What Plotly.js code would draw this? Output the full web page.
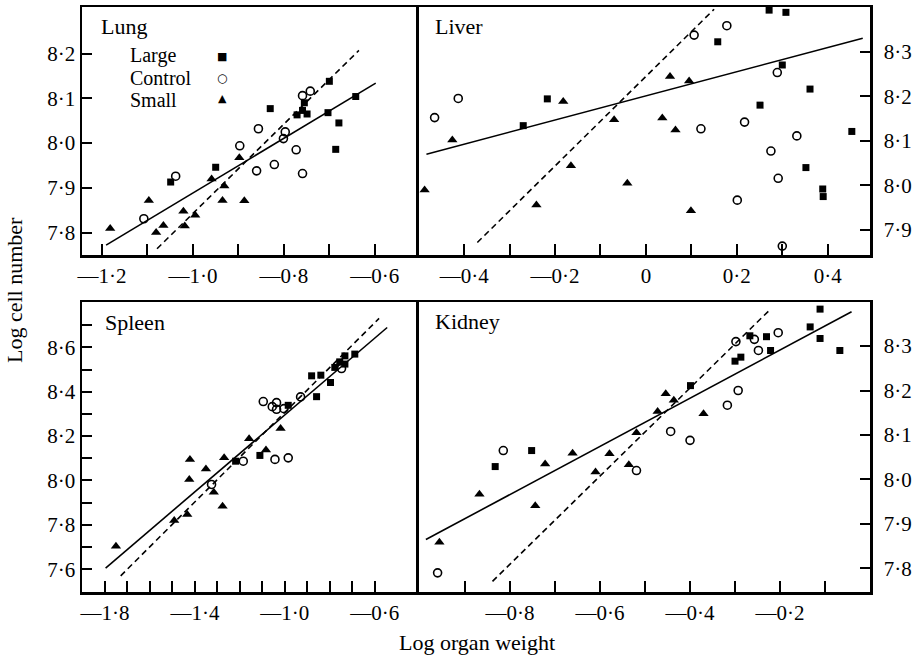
<!DOCTYPE html>
<html><head><meta charset="utf-8">
<script src="https://cdn.plot.ly/plotly-3.0.1.min.js"></script>
<style>body{margin:0;background:#fff}</style>
</head><body><div id="chart" style="width:913px;height:655px"></div>
<script>
// ---------- Lung ----------
var lungLargeX = [-1.049, -0.950, -0.830, -0.771, -0.755, -0.759, -0.749, -0.700, -0.703, -0.679, -0.686, -0.642];
var lungLargeY = [7.913, 7.946, 8.077, 8.063, 8.090, 8.073, 8.065, 8.138, 8.068, 8.045, 7.986, 8.104];
var lungControlX = [-1.038, -1.108, -0.897, -0.856, -0.860, -0.821, -0.797, -0.801, -0.773, -0.759, -0.742, -0.759];
var lungControlY = [7.926, 7.831, 7.994, 8.032, 7.938, 7.952, 8.025, 8.010, 7.985, 8.106, 8.116, 7.932];
var lungSmallX = [-1.182, -1.097, -1.081, -1.065, -1.021, -1.018, -0.995, -0.959, -0.931, -0.935, -0.898, -0.887];
var lungSmallY = [7.809, 7.872, 7.800, 7.816, 7.848, 7.815, 7.839, 7.920, 7.904, 7.872, 7.967, 7.871];
var lungSolidX = [-1.191, -0.598], lungSolidY = [7.772, 8.134];
var lungDashX = [-1.079, -0.635], lungDashY = [7.764, 8.207];

// ---------- Liver ----------
var liverLargeX = [0.271, 0.308, 0.158, 0.300, -0.217, -0.270, 0.361, 0.251, 0.453, 0.352, 0.389, 0.390];
var liverLargeY = [8.393, 8.388, 8.322, 8.270, 8.194, 8.134, 8.216, 8.180, 8.121, 8.040, 7.992, 7.975];
var liverControlX = [-0.465, -0.413, 0.106, 0.178, 0.289, 0.121, 0.217, 0.332, 0.275, 0.291, 0.201, 0.300];
var liverControlY = [8.152, 8.195, 8.337, 8.358, 8.253, 8.127, 8.142, 8.111, 8.077, 8.016, 7.967, 7.864];
var liverSmallX = [-0.487, -0.426, -0.241, -0.182, -0.165, -0.070, -0.041, 0.036, 0.053, 0.065, 0.095, 0.099];
var liverSmallY = [7.990, 8.102, 7.956, 8.188, 8.044, 8.147, 8.005, 8.151, 8.244, 8.124, 8.234, 7.943];
var liverSolidX = [-0.483, 0.477], liverSolidY = [8.070, 8.330];
var liverDashX = [-0.371, 0.150], liverDashY = [7.872, 8.395];

// ---------- Spleen ----------
var spleenLargeX = [-1.219, -1.111, -0.985, -0.881, -0.840, -0.859, -0.797, -0.778, -0.756, -0.733, -0.733, -0.689];
var spleenLargeY = [8.087, 8.113, 8.339, 8.472, 8.475, 8.378, 8.442, 8.510, 8.535, 8.562, 8.525, 8.570];
var spleenControlX = [-1.326, -1.185, -1.096, -1.056, -1.037, -1.037, -1.044, -1.004, -0.985, -0.930, -0.748];
var spleenControlY = [7.982, 8.087, 8.356, 8.333, 8.351, 8.321, 8.095, 8.324, 8.102, 8.377, 8.505];
var spleenSmallX = [-1.751, -1.492, -1.434, -1.422, -1.425, -1.351, -1.316, -1.277, -1.270, -1.159, -1.084, -1.019];
var spleenSmallY = [7.703, 7.820, 7.846, 8.095, 8.004, 8.052, 7.947, 7.884, 8.102, 8.188, 8.137, 8.235];
var spleenSolidX = [-1.797, -0.545], spleenSolidY = [7.605, 8.690];
var spleenDashX = [-1.730, -0.581], spleenDashY = [7.570, 8.731];

// ---------- Kidney ----------
var kidneyLargeX = [-0.833, -0.752, -0.399, -0.300, -0.287, -0.267, -0.230, -0.221, -0.133, -0.111, -0.111, -0.067];
var kidneyLargeY = [8.029, 8.065, 8.211, 8.266, 8.275, 8.323, 8.321, 8.290, 8.343, 8.383, 8.317, 8.290];
var kidneyControlX = [-0.961, -0.815, -0.519, -0.443, -0.400, -0.317, -0.293, -0.298, -0.257, -0.248, -0.204];
var kidneyControlY = [7.790, 8.065, 8.020, 8.108, 8.088, 8.167, 8.200, 8.310, 8.315, 8.290, 8.330];
var kidneySmallX = [-0.957, -0.868, -0.744, -0.722, -0.661, -0.610, -0.579, -0.536, -0.519, -0.472, -0.454, -0.436, -0.370];
var kidneySmallY = [7.859, 7.967, 7.941, 8.035, 8.059, 8.017, 8.058, 8.033, 8.105, 8.153, 8.193, 8.178, 8.148];
var kidneySolidX = [-0.987, -0.041], kidneySolidY = [7.865, 8.377];
var kidneyDashX = [-0.839, -0.220], kidneyDashY = [7.771, 8.384];

// ---------- Ticks ----------
var lungXTicks = [-1.2, -1.1, -1.0, -0.9, -0.8, -0.7, -0.6];
var lungXLabels = ["—1·2", "", "—1·0", "", "—0·8", "", "—0·6"];
var lungYTicks = [7.8, 7.9, 8.0, 8.1, 8.2];
var lungYLabels = ["7·8", "7·9", "8·0", "8·1", "8·2"];
var liverXTicks = [-0.4, -0.3, -0.2, -0.1, 0, 0.1, 0.2, 0.3, 0.4];
var liverXLabels = ["—0·4", "", "—0·2", "", "0", "", "0·2", "", "0·4"];
var liverYTicks = [7.9, 8.0, 8.1, 8.2, 8.3];
var liverYLabels = ["7·9", "8·0", "8·1", "8·2", "8·3"];
var spleenXTicks = [-1.8, -1.7, -1.6, -1.5, -1.4, -1.3, -1.2, -1.1, -1.0, -0.9, -0.8, -0.7, -0.6];
var spleenXLabels = ["—1·8", "", "", "", "—1·4", "", "", "", "—1·0", "", "", "", "—0·6"];
var spleenYTicks = [7.6, 7.7, 7.8, 7.9, 8.0, 8.1, 8.2, 8.3, 8.4, 8.5, 8.6, 8.7];
var spleenYLabels = ["7·6", "", "7·8", "", "8·0", "", "8·2", "", "8·4", "", "8·6", ""];
var kidneyXTicks = [-0.9, -0.8, -0.7, -0.6, -0.5, -0.4, -0.3, -0.2, -0.1];
var kidneyXLabels = ["", "—0·8", "", "—0·6", "", "—0·4", "", "—0·2", ""];
var kidneyYTicks = [7.8, 7.9, 8.0, 8.1, 8.2, 8.3];
var kidneyYLabels = ["7·8", "7·9", "8·0", "8·1", "8·2", "8·3"];

var panelNames = ["Lung", "Liver", "Spleen", "Kidney"];
var groupNames = ["Large", "Control", "Small"];

var FONT = "Liberation Serif, Times New Roman, serif";
var traces = [];
function addPanel(ax, large, control, small, solid, dash) {
  var xa = 'x' + ax, ya = 'y' + ax;
  traces.push({x: large[0], y: large[1], xaxis: xa, yaxis: ya, mode: 'markers', type: 'scatter', cliponaxis: false,
    marker: {symbol: 'square', size: 7, color: '#000'}});
  traces.push({x: control[0], y: control[1], xaxis: xa, yaxis: ya, mode: 'markers', type: 'scatter', cliponaxis: false,
    marker: {symbol: 'circle-open', size: 8, color: '#000', line: {width: 1.6, color: '#000'}}});
  traces.push({x: small[0], y: small[1], xaxis: xa, yaxis: ya, mode: 'markers', type: 'scatter', cliponaxis: false,
    marker: {symbol: 'triangle-up', size: 9, color: '#000'}});
  traces.push({x: solid[0], y: solid[1], xaxis: xa, yaxis: ya, mode: 'lines', type: 'scatter',
    line: {color: '#000', width: 1.6}});
  traces.push({x: dash[0], y: dash[1], xaxis: xa, yaxis: ya, mode: 'lines', type: 'scatter',
    line: {color: '#000', width: 1.6, dash: '6px,4px'}});
}
addPanel('', [lungLargeX, lungLargeY], [lungControlX, lungControlY], [lungSmallX, lungSmallY], [lungSolidX, lungSolidY], [lungDashX, lungDashY]);
addPanel('2', [liverLargeX, liverLargeY], [liverControlX, liverControlY], [liverSmallX, liverSmallY], [liverSolidX, liverSolidY], [liverDashX, liverDashY]);
addPanel('3', [spleenLargeX, spleenLargeY], [spleenControlX, spleenControlY], [spleenSmallX, spleenSmallY], [spleenSolidX, spleenSolidY], [spleenDashX, spleenDashY]);
addPanel('4', [kidneyLargeX, kidneyLargeY], [kidneyControlX, kidneyControlY], [kidneySmallX, kidneySmallY], [kidneySolidX, kidneySolidY], [kidneyDashX, kidneyDashY]);

var W = 913, H = 655;
function px(v) { return v / W; }
function py(v) { return 1 - v / H; }
var colL = [px(82), px(416.2)], colR = [px(418.7), px(870)];
var rowT = [py(255), py(7)], rowB = [py(592), py(302)];

function axis(domain, range, tv, tt, extra) {
  var a = {domain: domain, range: range, tickmode: 'array', tickvals: tv, ticktext: tt,
    showline: true, linecolor: '#000', linewidth: 2.5, mirror: true,
    ticks: 'inside', ticklen: 11, tickwidth: 2, tickcolor: '#000',
    showgrid: false, zeroline: false, fixedrange: true,
    tickfont: {family: FONT, size: 21, color: '#000'}, ticklabelstandoff: 0};
  for (var k in extra) a[k] = extra[k];
  return a;
}

var layout = {
  width: W, height: H, margin: {l: 0, r: 0, t: 0, b: 0},
  paper_bgcolor: '#fff', plot_bgcolor: '#fff', showlegend: false,
  font: {family: FONT, color: '#000'},
  xaxis: axis(colL, [-1.244, -0.509], lungXTicks, lungXLabels, {anchor: 'y'}),
  yaxis: axis(rowT, [7.75, 8.304], lungYTicks, lungYLabels, {anchor: 'x', ticklen: 10, ticklabelstandoff: 0}),
  xaxis2: axis(colR, [-0.500, 0.493], liverXTicks, liverXLabels, {anchor: 'y2'}),
  yaxis2: axis(rowT, [7.844, 8.400], liverYTicks, liverYLabels, {anchor: 'x2', side: 'right', ticklen: 10, ticklabelstandoff: 7}),
  xaxis3: axis(colL, [-1.902, -0.416], spleenXTicks, spleenXLabels, {anchor: 'y3'}),
  yaxis3: axis(rowB, [7.497, 8.805], spleenYTicks, spleenYLabels, {anchor: 'x3', ticklen: 10, ticklabelstandoff: 0}),
  xaxis4: axis(colR, [-1.003, 0.0], kidneyXTicks, kidneyXLabels, {anchor: 'y4'}),
  yaxis4: axis(rowB, [7.747, 8.399], kidneyYTicks, kidneyYLabels, {anchor: 'x4', side: 'right', ticklen: 10, ticklabelstandoff: 7}),
  annotations: []
};

function ann(text, x, y, xanchor, size, extra) {
  var a = {text: text, xref: 'paper', yref: 'paper', x: px(x), y: py(y), xanchor: xanchor, yanchor: 'middle',
    showarrow: false, font: {family: FONT, size: size, color: '#000'}};
  for (var k in extra) a[k] = extra[k];
  layout.annotations.push(a);
}
// panel labels
ann(panelNames[0], 99, 26, 'left', 22);
ann(panelNames[1], 433, 26, 'left', 22);
ann(panelNames[2], 103, 322, 'left', 22);
ann(panelNames[3], 433, 321, 'left', 22);
// legend inside Lung panel
ann(groupNames[0], 128, 55, 'left', 20);
ann(groupNames[1], 128, 78, 'left', 20);
ann(groupNames[2], 128, 100, 'left', 20);
ann('■', 222, 57, 'center', 11, {font: {family: 'DejaVu Sans', size: 11, color: '#000'}});
ann('○', 222, 78, 'center', 12, {font: {family: 'DejaVu Sans', size: 12, color: '#000'}});
ann('▲', 222, 98, 'center', 11, {font: {family: 'DejaVu Sans', size: 11, color: '#000'}});
// axis titles
ann('Log organ weight', 476.5, 642, 'center', 22);
ann('Log cell number', 14, 290, 'center', 22, {textangle: -90});

Plotly.newPlot('chart', traces, layout, {displayModeBar: false, staticPlot: true});
</script></body></html>
